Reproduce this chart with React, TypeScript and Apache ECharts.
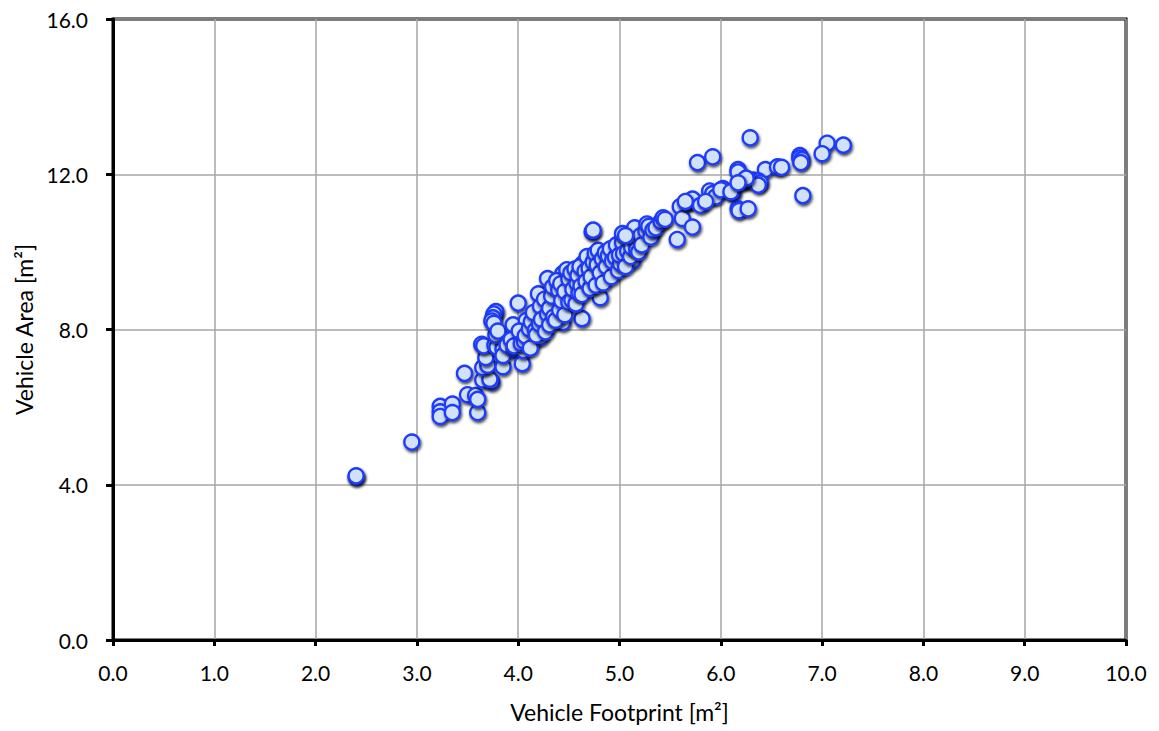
import React, { useEffect, useRef } from "react";
import * as echarts from "echarts";

const xTicks = [0, 1, 2, 3, 4, 5, 6, 7, 8, 9, 10];
const yTicks = [0, 4, 8, 12, 16];
const xTitle = "Vehicle Footprint [m²]";
const yTitle = "Vehicle Area [m²]";

const footprintLow = [2.40, 2.40, 2.95, 3.23, 3.23, 3.23, 3.35, 3.35, 3.60, 3.47, 3.50, 3.58, 3.60, 3.65, 3.74, 3.72, 3.65, 3.70, 3.68, 3.85, 3.64, 3.66, 3.77, 3.79, 3.85, 3.85, 3.79, 3.78, 3.78, 3.76, 3.75, 3.74, 3.76, 3.80, 3.89, 3.96, 3.97, 4.04, 4.05, 3.97, 3.95, 4.00, 4.09, 4.08, 4.15, 4.22, 4.18, 4.22, 4.28, 4.20, 4.29, 4.38, 4.44, 4.63, 4.54, 4.68, 4.81, 4.79, 4.64, 4.35, 4.48, 4.54, 4.44, 4.94, 5.13];
const areaLow = [4.20, 4.23, 5.10, 6.02, 5.88, 5.76, 6.08, 5.86, 5.86, 6.87, 6.32, 6.30, 6.20, 6.70, 6.65, 6.72, 7.02, 7.08, 7.28, 7.04, 7.62, 7.58, 7.60, 7.54, 7.51, 7.33, 7.90, 7.86, 8.46, 8.40, 8.30, 8.22, 8.16, 7.96, 7.60, 7.48, 7.52, 7.12, 7.46, 8.05, 8.12, 8.68, 8.05, 8.23, 7.72, 7.80, 8.28, 8.31, 8.49, 8.92, 9.31, 8.67, 8.18, 8.28, 9.34, 9.13, 8.82, 9.34, 9.70, 8.92, 9.08, 8.92, 9.44, 9.60, 9.77];

const footprintMid = [3.93, 3.96, 4.01, 4.03, 4.06, 4.07, 4.11, 4.12, 4.13, 4.15, 4.17, 4.18, 4.21, 4.22, 4.23, 4.26, 4.27, 4.29, 4.31, 4.31, 4.33, 4.34, 4.35, 4.37, 4.38, 4.41, 4.40, 4.43, 4.42, 4.46, 4.46, 4.48, 4.50, 4.50, 4.52, 4.53, 4.54, 4.56, 4.57, 4.58, 4.59, 4.60, 4.61, 4.62, 4.63, 4.66, 4.67, 4.68, 4.70, 4.71, 4.72, 4.74, 4.76, 4.77, 4.78, 4.79, 4.81, 4.83, 4.84, 4.86, 4.87, 4.89, 4.91, 4.92, 4.93, 4.96, 4.97, 4.99, 5.01, 5.00, 5.03, 5.04, 5.03, 5.06, 5.08, 5.09, 5.11, 5.12, 5.14, 5.15, 5.16, 5.17, 5.19, 5.21, 5.22, 5.26, 5.27, 5.29, 5.31, 5.33, 5.36, 5.41, 5.43, 5.45, 5.57, 5.60, 5.62, 5.67, 5.70, 5.72, 5.72, 4.73, 4.74, 5.06, 5.65];
const areaMid = [7.74, 7.58, 7.96, 7.64, 7.70, 7.84, 8.02, 7.52, 8.20, 8.44, 7.98, 7.86, 8.14, 8.60, 8.26, 8.78, 7.94, 8.40, 8.55, 8.12, 8.86, 9.10, 8.32, 8.24, 9.26, 8.50, 9.02, 8.74, 9.18, 8.38, 8.98, 9.54, 8.70, 9.30, 9.46, 8.76, 9.04, 9.56, 8.66, 9.20, 9.40, 8.94, 9.62, 9.12, 8.90, 9.50, 9.24, 9.88, 9.58, 9.06, 9.36, 9.74, 9.96, 9.14, 9.66, 10.04, 9.46, 9.82, 9.20, 9.98, 9.62, 9.90, 10.08, 9.36, 9.76, 9.86, 10.18, 9.52, 9.70, 9.92, 10.24, 9.96, 10.47, 9.62, 10.02, 10.34, 9.88, 10.12, 10.55, 10.62, 10.26, 10.06, 10.00, 10.42, 10.18, 10.54, 10.72, 10.66, 10.38, 10.56, 10.62, 10.78, 10.88, 10.84, 10.32, 11.17, 10.86, 11.27, 11.32, 11.36, 10.64, 10.52, 10.56, 10.42, 11.30];

const footprintHigh = [5.77, 5.92, 6.29, 7.05, 7.21, 7.00, 6.78, 6.78, 6.80, 6.79, 6.81, 6.17, 6.17, 6.44, 6.56, 6.60, 6.26, 6.32, 6.37, 6.39, 6.37, 6.12, 6.02, 5.89, 5.92, 5.92, 5.95, 6.17, 6.18, 6.27, 6.00, 6.10, 6.20, 6.25, 5.80, 5.85, 6.17];
const areaHigh = [12.30, 12.45, 12.94, 12.80, 12.75, 12.53, 12.48, 12.42, 12.38, 12.30, 11.45, 12.12, 12.06, 12.12, 12.19, 12.18, 11.83, 11.85, 11.83, 11.78, 11.72, 11.52, 11.63, 11.57, 11.45, 11.50, 11.42, 11.11, 11.06, 11.11, 11.60, 11.55, 11.80, 11.90, 11.20, 11.30, 11.78];

const FONT = "Lato, 'Open Sans', sans-serif";

export default function App() {
  const ref = useRef<HTMLDivElement>(null);
  useEffect(() => {
    if (!ref.current) return;
    const chart = echarts.init(ref.current, undefined, { renderer: "svg" });
    const fp = [...footprintLow, ...footprintMid, ...footprintHigh];
    const ar = [...areaLow, ...areaMid, ...areaHigh];
    const data = fp.map((x, i) => [x, ar[i]]);
    chart.setOption({
      animation: false,
      backgroundColor: "#ffffff",
      grid: {
        left: 113, right: 33, top: 19, bottom: 91,
        show: true, borderColor: "#000", borderWidth: 3, backgroundColor: "transparent",
      },
      xAxis: {
        type: "value", min: xTicks[0], max: xTicks[xTicks.length - 1], interval: 1,
        name: xTitle, nameLocation: "middle", nameGap: 60,
        nameTextStyle: { fontFamily: FONT, fontSize: 23, color: "#000" },
        axisLine: { show: true, lineStyle: { color: "#000", width: 3 } },
        axisTick: { show: true, inside: false, length: 6, lineStyle: { color: "#000", width: 3 } },
        axisLabel: { fontFamily: FONT, fontSize: 21, color: "#000", margin: 22, formatter: (v: number) => v.toFixed(1) },
        splitLine: { show: true, lineStyle: { color: "#a6a6a6", width: 1.5 } },
      },
      yAxis: {
        type: "value", min: yTicks[0], max: yTicks[yTicks.length - 1], interval: 4,
        name: yTitle, nameLocation: "middle", nameGap: 76,
        nameTextStyle: { fontFamily: FONT, fontSize: 23, color: "#000" },
        axisLine: { show: true, lineStyle: { color: "#000", width: 3 } },
        axisTick: { show: true, inside: false, length: 7, lineStyle: { color: "#000", width: 3 } },
        axisLabel: { fontFamily: FONT, fontSize: 21, color: "#000", margin: 25, formatter: (v: number) => v.toFixed(1) },
        splitLine: { show: true, lineStyle: { color: "#a6a6a6", width: 1.5 } },
      },
      series: [
        {
          type: "scatter",
          data,
          symbol: "circle",
          symbolSize: 15,
          itemStyle: {
            color: "#d2e2f6",
            borderColor: "#1e3cff",
            borderWidth: 2.4,
            opacity: 1,
            shadowColor: "rgba(0,0,0,0.75)",
            shadowBlur: 3,
            shadowOffsetX: 1,
            shadowOffsetY: 2,
          },
          emphasis: { disabled: true },
        },
      ],
    });
    return () => chart.dispose();
  }, []);
  return <div ref={ref} style={{ width: 1159, height: 731, position: "absolute", left: 0, top: 0 }} />;
}
